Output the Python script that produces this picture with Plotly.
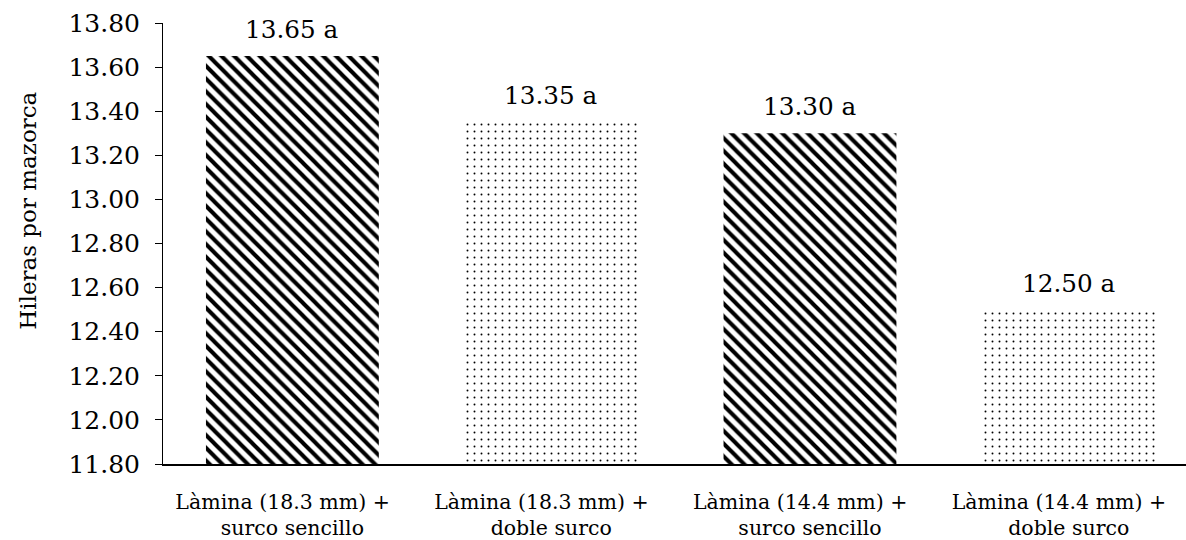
import plotly.graph_objects as go

categories = [
    "Làmina (18.3 mm) +\u00a0\u00a0\u00a0<br>surco sencillo",
    "Làmina (18.3 mm) +\u00a0\u00a0\u00a0<br>doble surco",
    "Làmina (14.4 mm) +\u00a0\u00a0\u00a0<br>surco sencillo",
    "Làmina (14.4 mm) +\u00a0\u00a0\u00a0<br>doble surco",
]
values = [13.65, 13.35, 13.30, 12.50]
letters = ["a", "a", "a", "a"]
pattern_shapes = ["\\", ".", "\\", "."]
y_tick_values = [11.8, 12.0, 12.2, 12.4, 12.6, 12.8, 13.0, 13.2, 13.4, 13.6, 13.8]

FONT = "DejaVu Serif"

fig = go.Figure()
fig.add_trace(go.Bar(
    x=categories,
    y=values,
    width=0.668,
    marker=dict(
        color="white",
        line=dict(width=0),
        pattern=dict(
            shape=pattern_shapes,
            size=[9, 7, 9, 7],
            solidity=[0.45, 0.06, 0.45, 0.06],
            fgcolor="black",
            bgcolor="white",
            fillmode="replace",
        ),
    ),
    hoverinfo="skip",
))

for c, v, l in zip(categories, values, letters):
    fig.add_annotation(
        x=c, y=v, text=f"{v:.2f} {l}", showarrow=False,
        yanchor="bottom", yshift=10,
        font=dict(family=FONT, size=24.7, color="black"),
    )

fig.add_annotation(
    xref="paper", yref="paper", x=-0.132, y=0.574,
    text="Hileras por mazorca", textangle=-90, showarrow=False,
    xanchor="center", yanchor="middle",
    font=dict(family=FONT, size=23, color="black"),
)

fig.update_layout(
    width=1186, height=540,
    margin=dict(l=163, r=0, t=23, b=76),
    paper_bgcolor="white", plot_bgcolor="white",
    showlegend=False,
    font=dict(family=FONT, color="black"),
    xaxis=dict(
        range=[-0.5, 3.453],
        showline=True, linecolor="black", linewidth=2,
        ticks="outside", ticklen=18, tickcolor="rgba(0,0,0,0)",
        showgrid=False, zeroline=False,
        tickfont=dict(family=FONT, size=20.5, color="black"),
    ),
    yaxis=dict(
        range=[11.8, 13.8],
        tickvals=y_tick_values,
        tickformat=".2f",
        showline=True, linecolor="black", linewidth=1,
        ticks="outside", ticklen=7, tickwidth=1, tickcolor="black",
        ticklabelstandoff=10,
        showgrid=False, zeroline=False,
        tickfont=dict(family=FONT, size=25, color="black"),
    ),
)

fig.write_html("out.html")
